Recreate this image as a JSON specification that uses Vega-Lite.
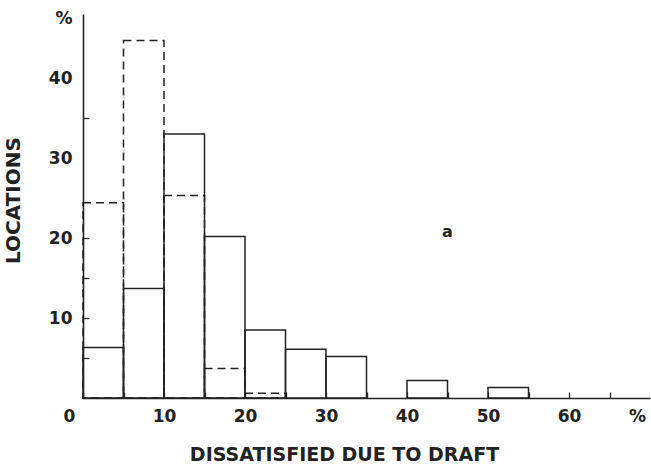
{
  "$schema": "https://vega.github.io/schema/vega-lite/v6.json",
  "autosize": "none",
  "width": 567,
  "height": 384,
  "padding": {"left": 83, "top": 14, "right": 1, "bottom": 70},
  "background": "white",
  "config": {
    "view": {"stroke": null},
    "font": "DejaVu Sans",
    "axis": {
      "grid": false,
      "domainColor": "#222",
      "domainWidth": 1.6,
      "tickColor": "#222",
      "tickWidth": 1.3,
      "labelFont": "DejaVu Sans",
      "labelFontWeight": "bold",
      "labelFontSize": 17,
      "labelColor": "#222",
      "titleFont": "DejaVu Sans",
      "titleFontWeight": "bold",
      "titleColor": "#222"
    }
  },
  "datasets": {
    "bars": [
      {"series": "dashed", "start": 0, "end": 5, "pct": 24.4},
      {"series": "dashed", "start": 5, "end": 10, "pct": 44.7},
      {"series": "dashed", "start": 10, "end": 15, "pct": 25.3},
      {"series": "dashed", "start": 15, "end": 20, "pct": 3.7},
      {"series": "dashed", "start": 20, "end": 25, "pct": 0.6},
      {"series": "solid", "start": 0, "end": 5, "pct": 6.3},
      {"series": "solid", "start": 5, "end": 10, "pct": 13.7},
      {"series": "solid", "start": 10, "end": 15, "pct": 33.0},
      {"series": "solid", "start": 15, "end": 20, "pct": 20.2},
      {"series": "solid", "start": 20, "end": 25, "pct": 8.5},
      {"series": "solid", "start": 25, "end": 30, "pct": 6.1},
      {"series": "solid", "start": 30, "end": 35, "pct": 5.2},
      {"series": "solid", "start": 40, "end": 45, "pct": 2.2},
      {"series": "solid", "start": 50, "end": 55, "pct": 1.3}
    ],
    "labels": [
      {"x": 45, "y": 20.7, "text": "a"}
    ]
  },
  "layer": [
    {
      "data": {"name": "bars"},
      "transform": [{"filter": "datum.series == 'dashed'"}],
      "mark": {"type": "rect", "fill": null, "stroke": "#222", "strokeWidth": 1.5, "strokeDash": [8, 5]},
      "encoding": {
        "x": {
          "field": "start", "type": "quantitative",
          "scale": {"domain": [0, 70], "nice": false},
          "axis": {
            "values": [0, 5, 10, 15, 20, 25, 30, 35, 40, 45, 50, 55, 60, 65, 68.4],
            "labelExpr": "datum.value == 68.4 ? '%' : (datum.value % 10 == 0 ? datum.label : '')",
            "tickSize": -6,
            "tickOpacity": {"expr": "datum.value == 68.4 ? 0 : 1"},
            "labelOffset": {"expr": "datum.value == 0 ? -20 : 0"},
            "labelPadding": 16,
            "title": "DISSATISFIED DUE TO DRAFT",
            "titleFontSize": 19,
            "titleX": 261,
            "titleY": 47,
            "titleBaseline": "top"
          }
        },
        "x2": {"field": "end"},
        "y": {
          "field": "pct", "type": "quantitative",
          "scale": {"domain": [0, 48], "nice": false},
          "axis": {
            "values": [5, 10, 15, 20, 30, 35, 40, 47.5],
            "labelExpr": "datum.value == 47.5 ? '%' : (datum.value % 10 == 0 ? datum.label : '')",
            "tickSize": -6,
            "tickOpacity": {"expr": "datum.value == 47.5 || datum.value == 40 || datum.value == 30 ? 0 : 1"},
            "labelPadding": 17,
            "title": "LOCATIONS",
            "titleFontSize": 20,
            "titleX": -60,
            "titleY": 186
          }
        },
        "y2": {"datum": 0}
      }
    },
    {
      "data": {"name": "bars"},
      "transform": [{"filter": "datum.series == 'solid'"}],
      "mark": {"type": "rect", "fill": null, "stroke": "#222", "strokeWidth": 1.5},
      "encoding": {
        "x": {"field": "start", "type": "quantitative"},
        "x2": {"field": "end"},
        "y": {"field": "pct", "type": "quantitative"},
        "y2": {"datum": 0}
      }
    },
    {
      "data": {"name": "labels"},
      "mark": {"type": "text", "fontSize": 16, "fontWeight": "bold", "color": "#222", "font": "DejaVu Sans"},
      "encoding": {
        "x": {"field": "x", "type": "quantitative"},
        "y": {"field": "y", "type": "quantitative"},
        "text": {"field": "text"}
      }
    }
  ]
}
